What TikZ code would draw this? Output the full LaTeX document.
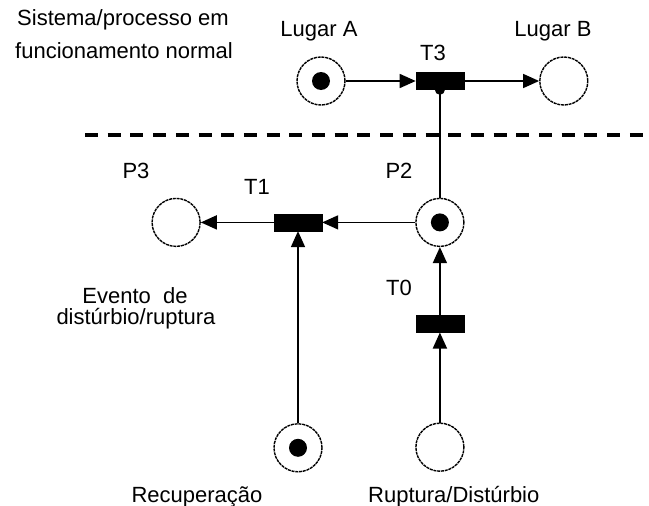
\documentclass[tikz,border=0pt]{standalone}
\usepackage{fontspec}
\setmainfont{Liberation Sans}
\usepackage{tikz}
\usetikzlibrary{arrows.meta, positioning}

\begin{document}
\begin{tikzpicture}[
	x=1pt, y=-1pt,
	every node/.style={font=\fontsize{22}{26}\selectfont, inner sep=0pt},
	lugar/.style={draw, circle, minimum size=48pt, line width=1.4pt, dash pattern=on 3pt off 0.8pt},
	marca/.style={path picture={\fill (path picture bounding box.center) circle (9pt);}},
	barra/.style={draw, fill=black, rectangle, minimum width=48pt, minimum height=17pt},
	arco/.style={draw, line width=1.6pt, -{Triangle[length=16pt, width=14pt]}},
	rotulo/.style={anchor=base},
	]
	\useasboundingbox (0,0) rectangle (649,506);
	
	% upper net (normal operation)
	\node[lugar, marca] (lugarA) at (321,81) {};
	\node[barra] (t3) [right=70pt of lugarA] {};
	\node[lugar] (lugarB) [right=75pt of t3] {};
	
	% lower net (disturbance and recovery)
	\node[lugar, marca] (p2) [below=108pt of t3] {};
	\node[barra] (t1) [left=93pt of p2] {};
	\node[lugar] (p3) [left=73pt of t1] {};
	\node[barra] (t0) [below=68pt of p2] {};
	\node[lugar] (ruptura) [below=90pt of t0] {};
	\node[lugar, marca] (recup) [below=192pt of t1] {};
	
	% dashed separation line
	\draw[line width=4pt, dash pattern=on 13pt off 9.7pt] (85,135) -- (649,135);
	
	% arcs
	\draw[arco] (lugarA) -- (t3);
	\draw[arco] (t3) -- (lugarB);
	\draw[line width=1.6pt, -{Circle[length=10pt]}, shorten >=-5pt] (p2.north) -- (t3.south);
	\draw[arco] (p2) -- (t1);
	\draw[arco] (t1) -- (p3);
	\draw[arco] (recup) -- (t1);
	\draw[arco] (ruptura) -- (t0);
	\draw[arco] (t0) -- (p2);
	
	% labels
	\node[anchor=base west] (txtA) at (17,25) {Sistema/processo em};
	\node[anchor=base west] (txtB) at (15,58) {funcionamento normal};
	\node[rotulo] (lbA) at (319,36) {Lugar A};
	\node[rotulo] (lbB) at (553,36) {Lugar B};
	\node[rotulo] (lbT3) at (433,60) {T3};
	\node[rotulo] (lbP3) at (136,178) {P3};
	\node[rotulo] (lbT1) at (257,194) {T1};
	\node[rotulo] (lbP2) at (399,178) {P2};
	\node[rotulo] (lbT0) at (399,295) {T0};
	\node[rotulo] (lbEv) at (135,303) {Evento\ \ de};
	\node[rotulo] (lbDis) at (136,324) {distúrbio/ruptura};
	\node[rotulo] (lbRec) at (197,502) {Recuperação};
	\node[anchor=base west] (lbRup) at (368,502) {Ruptura/Distúrbio};
	
\end{tikzpicture}
\end{document}
